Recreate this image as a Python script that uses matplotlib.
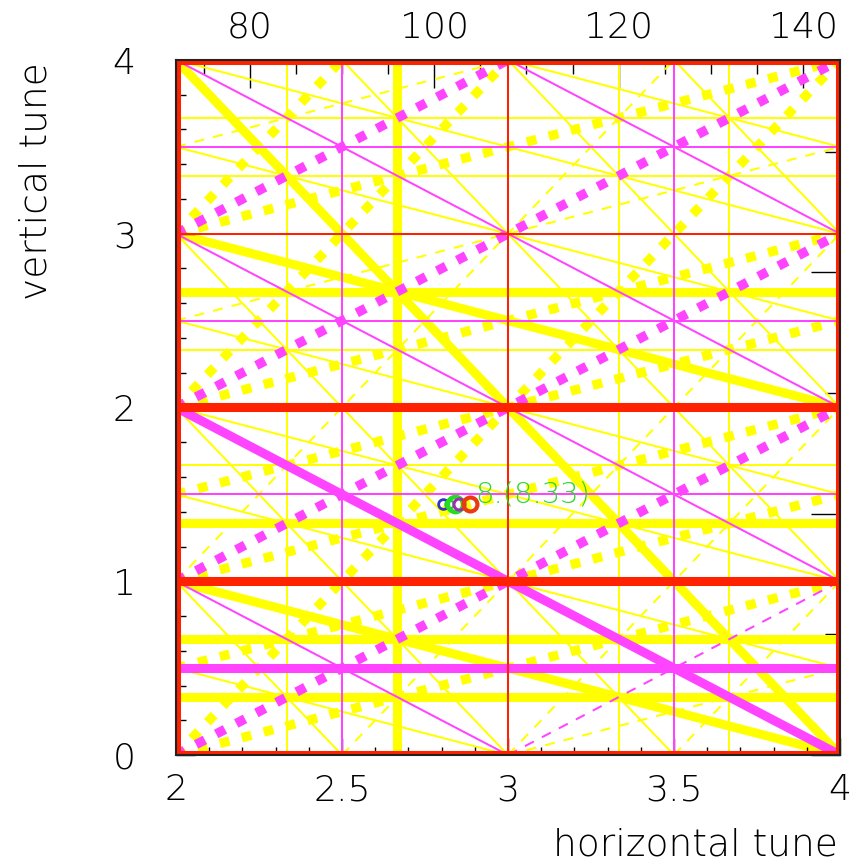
import math
import matplotlib
matplotlib.use("Agg")
import matplotlib.pyplot as plt
from matplotlib.ticker import MultipleLocator, FixedLocator, NullFormatter

plt.rcParams['font.family'] = ['DejaVu Sans']
plt.rcParams['font.weight'] = 200

# tune window and frequency scale of the secondary axes
qx_range = [2.0, 4.0]
qy_range = [0.0, 4.0]
f0 = 36.0
top_ticks = [80, 100, 120, 140]

# resonance terms m*Qx + n*Qy = p, by order
order1_terms = [(1, 0), (0, 1)]
order2_terms = [(2, 0), (0, 2), (1, 1), (1, -1)]
order3_terms = [(3, 0), (0, 3), (1, 2), (2, 1), (1, -2), (2, -1)]
superperiod = 8

# measured working points
meas_qx = [2.805, 2.823, 2.841, 2.853, 2.887]
meas_qy = [1.445, 1.445, 1.447, 1.445, 1.447]
meas_text = "8.(8.33)"
text_qx, text_qy = 2.902, 1.497

order_colors = {1: '#ff2200', 2: '#ff44ff', 3: '#ffff00'}
meas_colors = ['#3434c8', '#22cc22', '#22dd22', '#9b30b4', '#e83c10']
meas_sizes = [7, 6, 11, 8, 10]
meas_widths = [2.0, 1.6, 3.2, 2.2, 3.0]

THICK = 6.5
DOT = 6.8
THIN = 1.45


def clip_line(m, n, p):
    """end points of m*qx + n*qy = p inside the tune window"""
    x0, x1 = qx_range
    y0, y1 = qy_range
    pts = []
    if n != 0:
        for x in (x0, x1):
            y = (p - m * x) / n
            if y0 - 1e-9 <= y <= y1 + 1e-9:
                pts.append((x, y))
    if m != 0:
        for y in (y0, y1):
            x = (p - n * y) / m
            if x0 - 1e-9 <= x <= x1 + 1e-9:
                pts.append((x, y))
    uniq = []
    for pt in pts:
        if all(abs(pt[0] - u[0]) > 1e-9 or abs(pt[1] - u[1]) > 1e-9 for u in uniq):
            uniq.append(pt)
    if len(uniq) < 2:
        return None
    uniq.sort()
    return uniq[0], uniq[1]


def draw_order(ax, terms, order, z):
    color = order_colors[order]
    for m, n in terms:
        corners = [m * x + n * y for x in qx_range for y in qy_range]
        for p in range(math.floor(min(corners)), math.ceil(max(corners)) + 1):
            if math.gcd(math.gcd(abs(m), abs(n)), abs(p)) > 1:
                continue
            seg = clip_line(m, n, p)
            if seg is None:
                continue
            strong = p == 0 or superperiod % abs(p) == 0
            lw = THICK if strong else THIN
            if m * n < 0:
                if strong:
                    lw, ls = DOT, (0, (1.05, 1.35))
                else:
                    ls = (0, (5.0, 4.5))
            else:
                ls = '-'
            (xa, ya), (xb, yb) = seg
            ax.plot([xa, xb], [ya, yb], color=color, lw=lw, ls=ls,
                    solid_capstyle='butt', dash_capstyle='butt',
                    zorder=z + (0.5 if strong else 0))


fig = plt.figure(figsize=(8.5, 8.63), dpi=100)
ax = fig.add_axes([176 / 850, 108 / 863, 664 / 850, 695 / 863])
ax.set_xlim(qx_range)
ax.set_ylim(qy_range)

draw_order(ax, order3_terms, 3, 1)
draw_order(ax, order2_terms, 2, 2)
draw_order(ax, order1_terms, 1, 3)

for qx, qy, c, s, w in zip(meas_qx, meas_qy, meas_colors, meas_sizes, meas_widths):
    ax.plot(qx, qy, 'o', ms=s, mfc='none', mec=c, mew=w, zorder=5)
ax.text(text_qx, text_qy, meas_text, color='#2fd62f', fontsize=21,
        va='center', ha='left', zorder=6)

for sp in ax.spines.values():
    sp.set_linewidth(1.5)
    sp.set_color('#222222')
    sp.set_zorder(7)

ax.set_xticks([2, 2.5, 3, 3.5, 4])
ax.set_xticklabels(['2', '2.5', '3', '3.5', '4'])
ax.xaxis.set_minor_locator(MultipleLocator(0.1))
ax.yaxis.set_major_locator(MultipleLocator(1))
ax.yaxis.set_minor_locator(MultipleLocator(0.2))
ax.tick_params(axis='x', which='major', direction='in', length=12, width=1, pad=13, labelsize=26)
ax.tick_params(axis='x', which='minor', direction='in', length=6, width=1)
ax.tick_params(axis='y', which='major', direction='in', length=14, width=1, pad=29, labelsize=26)
ax.tick_params(axis='y', which='minor', direction='in', length=7, width=1)
ax.tick_params(top=False, right=False, which='both')

top = ax.secondary_xaxis('top', functions=(lambda q: q * f0, lambda f: f / f0))
top.xaxis.set_major_locator(FixedLocator(top_ticks))
top.xaxis.set_minor_locator(MultipleLocator(5))
top.tick_params(which='major', direction='in', length=20, width=1, pad=11, labelsize=26)
top.tick_params(which='minor', direction='in', length=10, width=1)
top.spines['top'].set_visible(False)

right = ax.secondary_yaxis('right', functions=(lambda q: q * f0, lambda f: f / f0))
right.yaxis.set_major_locator(MultipleLocator(50))
right.yaxis.set_minor_locator(MultipleLocator(25))
right.yaxis.set_major_formatter(NullFormatter())
right.tick_params(which='major', direction='in', length=21, width=1)
right.tick_params(which='minor', direction='in', length=11, width=1)
right.spines['right'].set_visible(False)

fig.text(838 / 850, 1 - 845 / 863, 'horizontal tune', fontsize=27,
         ha='right', va='center')
fig.text(36 / 850, 1 - 62 / 863, 'vertical tune', fontsize=27,
         rotation=90, ha='center', va='top')

fig.savefig('out.png', dpi=100)
